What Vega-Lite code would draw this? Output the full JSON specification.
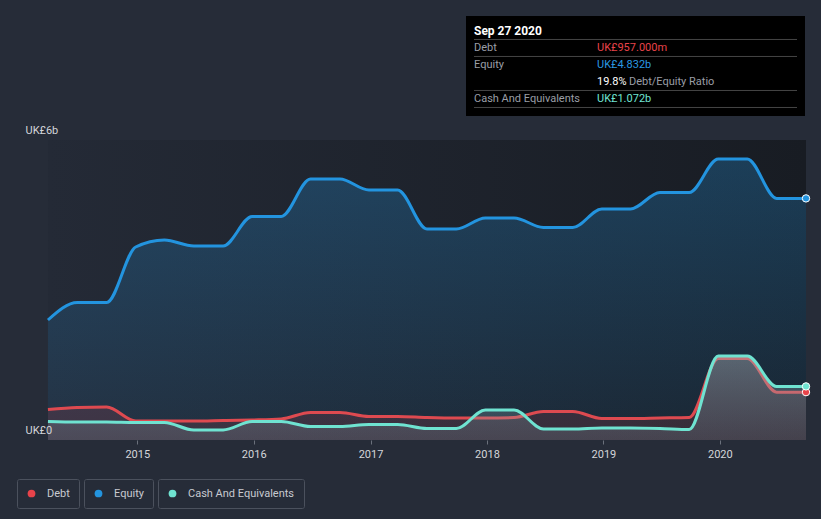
{
  "$schema": "https://vega.github.io/schema/vega-lite/v6.json",
  "background": "#262c38",
  "padding": {"left": 16, "top": 16, "right": 16, "bottom": 10},
  "config": {
    "font": "Roboto",
    "view": {"stroke": null},
    "axis": {"labelFont": "Roboto", "labelFontSize": 11, "labelColor": "#d4d6da"},
    "legend": {"layout": {"bottom": {"anchor": "start", "direction": "horizontal", "margin": 5}}}
  },
  "datasets": {
    "fin": [
      {"date": "2014-03-27", "equity": 2.40, "debt": 0.61, "cash": 0.37},
      {"date": "2014-06-27", "equity": 2.75, "debt": 0.65, "cash": 0.36},
      {"date": "2014-09-27", "equity": 2.75, "debt": 0.66, "cash": 0.36},
      {"date": "2014-12-27", "equity": 3.86, "debt": 0.38, "cash": 0.35},
      {"date": "2015-03-27", "equity": 4.00, "debt": 0.38, "cash": 0.35},
      {"date": "2015-06-27", "equity": 3.88, "debt": 0.38, "cash": 0.20},
      {"date": "2015-09-27", "equity": 3.88, "debt": 0.39, "cash": 0.20},
      {"date": "2015-12-27", "equity": 4.47, "debt": 0.40, "cash": 0.37},
      {"date": "2016-03-27", "equity": 4.47, "debt": 0.42, "cash": 0.37},
      {"date": "2016-06-27", "equity": 5.22, "debt": 0.55, "cash": 0.27},
      {"date": "2016-09-27", "equity": 5.22, "debt": 0.55, "cash": 0.27},
      {"date": "2016-12-27", "equity": 5.00, "debt": 0.47, "cash": 0.31},
      {"date": "2017-03-27", "equity": 5.00, "debt": 0.47, "cash": 0.31},
      {"date": "2017-06-27", "equity": 4.22, "debt": 0.45, "cash": 0.23},
      {"date": "2017-09-27", "equity": 4.22, "debt": 0.44, "cash": 0.23},
      {"date": "2017-12-27", "equity": 4.44, "debt": 0.44, "cash": 0.60},
      {"date": "2018-03-27", "equity": 4.44, "debt": 0.45, "cash": 0.60},
      {"date": "2018-06-27", "equity": 4.25, "debt": 0.57, "cash": 0.22},
      {"date": "2018-09-27", "equity": 4.25, "debt": 0.57, "cash": 0.22},
      {"date": "2018-12-27", "equity": 4.62, "debt": 0.43, "cash": 0.24},
      {"date": "2019-03-27", "equity": 4.62, "debt": 0.43, "cash": 0.24},
      {"date": "2019-06-27", "equity": 4.95, "debt": 0.44, "cash": 0.23},
      {"date": "2019-09-27", "equity": 4.95, "debt": 0.45, "cash": 0.21},
      {"date": "2019-12-27", "equity": 5.62, "debt": 1.63, "cash": 1.68},
      {"date": "2020-03-27", "equity": 5.62, "debt": 1.63, "cash": 1.68},
      {"date": "2020-06-27", "equity": 4.832, "debt": 0.957, "cash": 1.072},
      {"date": "2020-09-27", "equity": 4.832, "debt": 0.957, "cash": 1.072}
    ],
    "last": [
      {"date": "2020-09-27", "equity": 4.832, "debt": 0.957, "cash": 1.072}
    ],
    "span": [
      {"start": "2014-03-27", "end": "2020-09-27"}
    ],
    "tiptitle": [
      {"row": 0, "col": "label", "text": "Sep 27 2020"}
    ],
    "tip": [
      {"row": 1, "col": "label", "text": "Debt", "kind": "label"},
      {"row": 1, "col": "value", "text": "UK£957.000m", "kind": "debt"},
      {"row": 2, "col": "label", "text": "Equity", "kind": "label"},
      {"row": 2, "col": "value", "text": "UK£4.832b", "kind": "equity"},
      {"row": 3, "col": "value", "text": "19.8%", "kind": "ratio"},
      {"row": 4, "col": "label", "text": "Cash And Equivalents", "kind": "label"},
      {"row": 4, "col": "value", "text": "UK£1.072b", "kind": "cash"}
    ],
    "tipnote": [
      {"row": 3, "col": "value", "text": "Debt/Equity Ratio"}
    ],
    "seps": [
      {"row": 0.5}, {"row": 1.5}, {"row": 3.5}, {"row": 4.5}
    ]
  },
  "vconcat": [
    {
      "hconcat": [
        {
          "width": 428,
          "height": 84,
          "data": {"values": []},
          "mark": "point",
          "encoding": {}
        },
        {
          "width": 323,
          "height": 84,
          "view": {"fill": "#000000", "stroke": "#000000", "strokeWidth": 16},
          "layer": [
            {
              "data": {"name": "seps"},
              "mark": {"type": "rule", "stroke": "#444444", "strokeWidth": 1},
              "encoding": {
                "y": {"field": "row", "type": "quantitative", "scale": {"domain": [-0.41, 4.53], "reverse": true, "nice": false, "zero": false}, "axis": null}
              }
            },
            {
              "data": {"name": "tiptitle"},
              "mark": {"type": "text", "align": "left", "baseline": "middle", "fontSize": 12, "fontWeight": "bold", "color": "#ffffff"},
              "encoding": {
                "x": {"field": "col", "type": "nominal", "scale": {"type": "point", "domain": ["label", "value"], "range": [0, 123], "padding": 0}, "axis": null},
                "y": {"field": "row", "type": "quantitative", "scale": {"domain": [-0.41, 4.53], "reverse": true, "nice": false, "zero": false}, "axis": null},
                "text": {"field": "text"}
              }
            },
            {
              "data": {"name": "tip"},
              "mark": {"type": "text", "align": "left", "baseline": "middle", "fontSize": 11},
              "encoding": {
                "x": {"field": "col", "type": "nominal", "scale": {"type": "point", "domain": ["label", "value"], "range": [0, 123], "padding": 0}, "axis": null},
                "y": {"field": "row", "type": "quantitative", "scale": {"domain": [-0.41, 4.53], "reverse": true, "nice": false, "zero": false}, "axis": null},
                "text": {"field": "text"},
                "color": {"field": "kind", "type": "nominal", "legend": null, "scale": {"domain": ["label", "debt", "equity", "ratio", "cash"], "range": ["#9a9ea6", "#e8434a", "#2a98e2", "#ffffff", "#70e3d2"]}}
              }
            },
            {
              "data": {"name": "tipnote"},
              "mark": {"type": "text", "align": "left", "baseline": "middle", "fontSize": 11, "dx": 32, "color": "#9a9ea6"},
              "encoding": {
                "x": {"field": "col", "type": "nominal", "scale": {"type": "point", "domain": ["label", "value"], "range": [0, 123], "padding": 0}, "axis": null},
                "y": {"field": "row", "type": "quantitative", "scale": {"domain": [-0.41, 4.53], "reverse": true, "nice": false, "zero": false}, "axis": null},
                "text": {"field": "text"}
              }
            }
          ],
          "resolve": {"scale": {"color": "independent"}}
        }
      ],
      "spacing": 20
    },
    {
      "width": 789,
      "height": 300,
      "layer": [
        {
          "data": {"name": "span"},
          "mark": {"type": "rect", "fill": {"gradient": "linear", "x1": 0, "y1": 0, "x2": 1, "y2": 0, "stops": [{"offset": 0, "color": "#242a36"}, {"offset": 1, "color": "#181c23"}]}},
          "encoding": {
            "x": {"field": "start", "type": "temporal"},
            "x2": {"field": "end"},
            "y": {"datum": 0, "type": "quantitative"},
            "y2": {"datum": 6}
          }
        },
        {
          "data": {"name": "fin"},
          "mark": {"type": "area", "interpolate": "monotone", "fill": {"gradient": "linear", "x1": 0, "y1": 0, "x2": 0, "y2": 1, "stops": [{"offset": 0, "color": "rgba(35,148,223,0.28)"}, {"offset": 1, "color": "rgba(35,148,223,0.08)"}]}},
          "encoding": {
            "x": {"field": "date", "type": "temporal"},
            "y": {"field": "equity", "type": "quantitative"}
          }
        },
        {
          "data": {"name": "fin"},
          "mark": {"type": "line", "interpolate": "monotone", "stroke": "#2394df", "strokeWidth": 3},
          "encoding": {
            "x": {"field": "date", "type": "temporal"},
            "y": {"field": "equity", "type": "quantitative"}
          }
        },
        {
          "data": {"name": "fin"},
          "mark": {"type": "area", "interpolate": "monotone", "fill": "rgba(230,70,75,0.14)"},
          "encoding": {
            "x": {"field": "date", "type": "temporal"},
            "y": {"field": "debt", "type": "quantitative"}
          }
        },
        {
          "data": {"name": "fin"},
          "mark": {"type": "line", "interpolate": "monotone", "stroke": "#de4a50", "strokeWidth": 3},
          "encoding": {
            "x": {"field": "date", "type": "temporal"},
            "y": {"field": "debt", "type": "quantitative"}
          }
        },
        {
          "data": {"name": "fin"},
          "mark": {"type": "area", "interpolate": "monotone", "fill": {"gradient": "linear", "x1": 0, "y1": 0, "x2": 0, "y2": 1, "stops": [{"offset": 0, "color": "rgba(150,195,200,0.36)"}, {"offset": 1, "color": "rgba(130,160,170,0.2)"}]}},
          "encoding": {
            "x": {"field": "date", "type": "temporal"},
            "y": {"field": "cash", "type": "quantitative"}
          }
        },
        {
          "data": {"name": "fin"},
          "mark": {"type": "line", "interpolate": "monotone", "stroke": "#6fe3d1", "strokeWidth": 3},
          "encoding": {
            "x": {"field": "date", "type": "temporal"},
            "y": {"field": "cash", "type": "quantitative"}
          }
        },
        {
          "data": {"name": "last"},
          "mark": {"type": "point", "shape": "circle", "filled": true, "size": 55, "stroke": "#ffffff", "strokeWidth": 1, "opacity": 1},
          "encoding": {
            "x": {"field": "date", "type": "temporal"},
            "y": {"field": "debt", "type": "quantitative"},
            "color": {"datum": "Debt", "scale": {"domain": ["Debt"], "range": ["#e8434a"]}, "legend": {"orient": "bottom", "title": null, "symbolType": "circle", "symbolSize": 60, "symbolStrokeWidth": 0, "padding": 9, "strokeColor": "#4b515d", "cornerRadius": 2, "labelColor": "#c8cad0", "labelFontSize": 11, "labelFont": "Roboto", "labelOffset": 10, "offset": 20}}
          }
        },
        {
          "data": {"name": "last"},
          "mark": {"type": "point", "shape": "circle", "filled": true, "size": 55, "stroke": "#ffffff", "strokeWidth": 1, "opacity": 1},
          "encoding": {
            "x": {"field": "date", "type": "temporal"},
            "y": {"field": "equity", "type": "quantitative"},
            "color": {"datum": "Equity", "scale": {"domain": ["Equity"], "range": ["#2394df"]}, "legend": {"orient": "bottom", "title": null, "symbolType": "circle", "symbolSize": 60, "symbolStrokeWidth": 0, "padding": 9, "strokeColor": "#4b515d", "cornerRadius": 2, "labelColor": "#c8cad0", "labelFontSize": 11, "labelFont": "Roboto", "labelOffset": 10, "offset": 20}}
          }
        },
        {
          "data": {"name": "last"},
          "mark": {"type": "point", "shape": "circle", "filled": true, "size": 55, "stroke": "#ffffff", "strokeWidth": 1, "opacity": 1},
          "encoding": {
            "x": {"field": "date", "type": "temporal", "scale": {"domain": ["2013-12-20", "2020-09-27"]}, "axis": {"values": [{"year": 2015}, {"year": 2016}, {"year": 2017}, {"year": 2018}, {"year": 2019}, {"year": 2020}], "format": "%Y", "title": null, "grid": false, "domain": false, "tickColor": "#6b717c", "tickSize": 4, "labelPadding": 4}},
            "y": {"field": "cash", "type": "quantitative", "scale": {"domain": [0, 6], "nice": false}, "axis": {"values": [0, 2, 4, 6], "zindex": 1, "title": null, "domain": false, "ticks": false, "tickSize": 0, "labelAlign": "left", "labelBaseline": "alphabetic", "labelPadding": -8, "labelOffset": -7, "gridColor": "#474d58", "gridOpacity": 0.8, "labelExpr": "datum.value == 0 ? 'UK£0' : (datum.value == 6 ? 'UK£6b' : '')"}},
            "color": {"datum": "Cash And Equivalents", "scale": {"domain": ["Cash And Equivalents"], "range": ["#6fe3d1"]}, "legend": {"orient": "bottom", "title": null, "symbolType": "circle", "symbolSize": 60, "symbolStrokeWidth": 0, "padding": 9, "strokeColor": "#4b515d", "cornerRadius": 2, "labelColor": "#c8cad0", "labelFontSize": 11, "labelFont": "Roboto", "labelOffset": 10, "offset": 20}}
          }
        }
      ],
      "resolve": {"scale": {"color": "independent"}, "legend": {"color": "independent"}}
    }
  ],
  "spacing": 8
}
